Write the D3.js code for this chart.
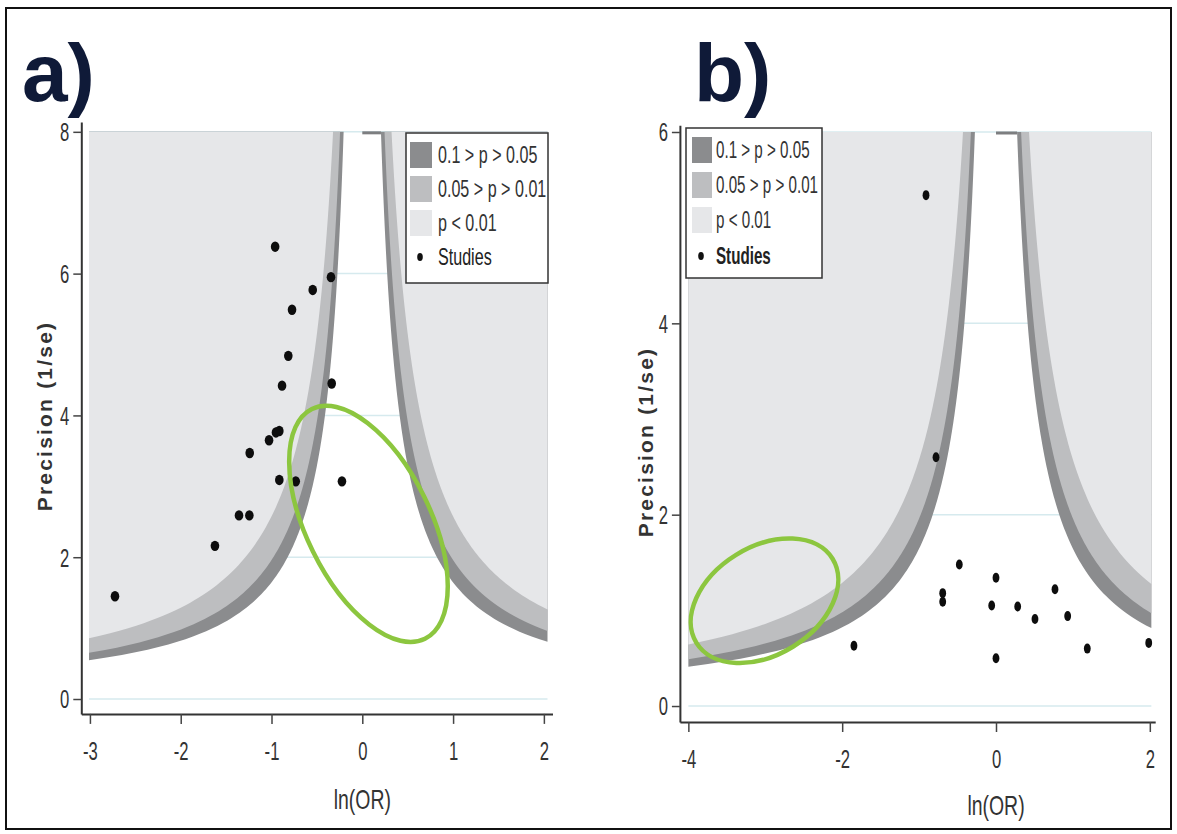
<!DOCTYPE html>
<html><head><meta charset="utf-8">
<script src="https://cdn.jsdelivr.net/npm/d3@7"></script>
<style>
body{margin:0;background:#fff;}
svg{display:block;}
</style></head><body>
<svg id="chart" width="1177" height="834"></svg>
<script>
// Two-sided significance contours (z thresholds) and their fills
const bandLabels = ["0.1 > p > 0.05", "0.05 > p > 0.01", "p < 0.01"];
const bandZ = [1.645, 1.96, 2.576];
const bandFill = ["#8b8c8e", "#bdbec0", "#e6e7e9"];
const studiesLabel = "Studies";

// Panel a: study estimates
const aLogOR = [-0.96, -0.345, -0.546, -0.774, -0.815, -0.884, -0.337, -0.914, -0.951, -1.027, -1.24, -0.914, -0.733, -0.224, -1.358, -1.244, -1.623, -2.724];
const aPrecision = [6.38, 5.95, 5.77, 5.49, 4.84, 4.42, 4.45, 3.78, 3.76, 3.65, 3.47, 3.09, 3.07, 3.07, 2.59, 2.59, 2.16, 1.45];
const aXTicks = [-3, -2, -1, 0, 1, 2];
const aYTicks = [0, 2, 4, 6, 8];
const aShadeRange = [-3.01, 2.04];

// Panel b: study estimates
const bLogOR = [-0.91, -0.78, -0.477, 0.0, -0.693, -0.693, -0.056, 0.282, 0.507, 0.767, 0.932, 0.0, 1.187, 1.986, -1.847];
const bPrecision = [5.34, 2.60, 1.48, 1.34, 1.18, 1.09, 1.05, 1.04, 0.91, 1.22, 0.94, 0.50, 0.60, 0.66, 0.63];
const bXTicks = [-4, -2, 0, 2];
const bYTicks = [0, 2, 4, 6];
const bShadeRange = [-4.0, 2.02];

const SANS = '"Liberation Sans",Arial,Helvetica,sans-serif';
// condensed look: regular sans squeezed horizontally
const SQUEEZE = 0.7;

const svg = d3.select("#chart");

// frame around the figure
svg.append("rect").attr("x", 6).attr("y", 8).attr("width", 1165).attr("height", 821)
  .attr("fill", "none").attr("stroke", "#111").attr("stroke-width", 2);

const panels = [
  {
    title: "a)", titleX: 22,
    logOR: aLogOR, precision: aPrecision, xTicks: aXTicks, yTicks: aYTicks, shade: aShadeRange,
    xDomain: [-3.095, 2.095], xRange: [81.3, 552.5],
    yDomain: [-0.21, 8.14], yRange: [713.9, 121.9],
    dot: [4.3, 5.2],
    legend: {x: 406, y: 133, w: 142, h: 150, swX: 4, swW: 22, txX: 32, sx: 0.7, rows: [22, 56, 90, 124], boldStudies: false},
    yLabel: {x: 44, y: 416}, xLabelY: 800, tickLabelY: 751,
    ellipse: {cx: 0.068, cy: 2.47, rx: 128, ry: 62, rot: 63.8}
  },
  {
    title: "b)", titleX: 694,
    logOR: bLogOR, precision: bPrecision, xTicks: bXTicks, yTicks: bYTicks, shade: bShadeRange,
    xDomain: [-4.11, 2.07], xRange: [679.9, 1155.2],
    yDomain: [-0.167, 6.07], yRange: [722, 125.3],
    dot: [3.4, 5.0],
    legend: {x: 686, y: 128, w: 136, h: 150, swX: 6, swW: 20, txX: 30, sx: 0.66, rows: [22, 57, 92, 128], boldStudies: true},
    yLabel: {x: 645, y: 442}, xLabelY: 806, tickLabelY: 759,
    ellipse: {cx: -3.01, cy: 1.10, rx: 80, ry: 54, rot: -31.7}
  }
];

panels.forEach(drawPanel);

// place a text at (x, y) with a horizontal squeeze
function narrowText(parent, x, y, str, size, opts = {}) {
  return parent.append("text")
    .attr("transform", `translate(${x},${y}) scale(${opts.sx || SQUEEZE},1)`)
    .attr("text-anchor", opts.anchor || "start")
    .attr("dominant-baseline", "central")
    .attr("font-family", SANS).attr("font-size", size)
    .attr("font-weight", opts.bold ? "bold" : "normal")
    .attr("fill", opts.fill || "#333").text(str);
}

function drawPanel(p) {
  const x = d3.scaleLinear().domain(p.xDomain).range(p.xRange);
  const y = d3.scaleLinear().domain(p.yDomain).range(p.yRange);
  const g = svg.append("g");
  const yTop = d3.max(p.yTicks);
  const [xmin, xmax] = p.shade;

  // title
  g.append("text").attr("x", p.titleX).attr("y", 101)
    .attr("font-family", SANS).attr("font-weight", "bold").attr("font-size", 82)
    .attr("fill", "#0f1a38").text(p.title);

  // horizontal grid
  g.append("g").selectAll("line").data(p.yTicks).join("line")
    .attr("x1", x(xmin)).attr("x2", x(xmax))
    .attr("y1", d => y(d)).attr("y2", d => y(d))
    .attr("stroke", "#d6eaee").attr("stroke-width", 1.5);

  // contour regions: |lnOR| > z / precision, widest band first
  const line = d3.line().x(d => x(d[0])).y(d => y(d[1]));
  bandZ.forEach((z, i) => {
    [-1, 1].forEach(side => {
      const edge = side < 0 ? xmin : xmax;
      const yLow = z / Math.abs(edge);
      const pts = [[edge, yTop]];
      const n = 200;
      for (let k = 0; k <= n; k++) {
        const pr = yTop - (yTop - yLow) * k / n;
        pts.push([side * z / pr, pr]);
      }
      pts.push([edge, yLow]);
      g.append("path").attr("d", line(pts) + "Z").attr("fill", bandFill[i]);
    });
  });
  // short cap along the top of the central region
  g.append("line")
    .attr("x1", x(0)).attr("x2", x(bandZ[0] / yTop))
    .attr("y1", y(yTop) + 1).attr("y2", y(yTop) + 1)
    .attr("stroke", "#7d7e80").attr("stroke-width", 3);

  // studies
  g.append("g").selectAll("ellipse").data(p.logOR.map((v, i) => [v, p.precision[i]])).join("ellipse")
    .attr("cx", d => x(d[0])).attr("cy", d => y(d[1]))
    .attr("rx", p.dot[0]).attr("ry", p.dot[1]).attr("fill", "#0d0d0d");

  // highlighted region
  const e = p.ellipse;
  g.append("ellipse")
    .attr("transform", `translate(${x(e.cx)},${y(e.cy)}) rotate(${e.rot})`)
    .attr("rx", e.rx).attr("ry", e.ry)
    .attr("fill", "none").attr("stroke", "#8cc63f").attr("stroke-width", 4.5);

  // axes
  const xAxis = g.append("g").attr("transform", `translate(0,${p.yRange[0]})`)
    .call(d3.axisBottom(x).tickValues(p.xTicks).tickSize(10).tickSizeOuter(0)
      .tickFormat(d => d < 0 ? "-" + Math.abs(d) : String(d)));
  const yAxis = g.append("g").attr("transform", `translate(${p.xRange[0]},0)`)
    .call(d3.axisLeft(y).tickValues(p.yTicks).tickSize(8).tickSizeOuter(0).tickFormat(d3.format("d")));
  [xAxis, yAxis].forEach(a => {
    a.select(".domain").attr("stroke", "#333").attr("stroke-width", 2);
    a.selectAll(".tick line").attr("stroke", "#444").attr("stroke-width", 1.5);
    a.selectAll(".tick text").attr("font-family", SANS).attr("font-size", 26).attr("fill", "#333")
      .attr("dy", null).attr("dominant-baseline", "central");
  });
  xAxis.selectAll(".tick text")
    .attr("y", null)
    .attr("transform", `translate(0,${p.tickLabelY - p.yRange[0]}) scale(0.64,1)`);
  yAxis.selectAll(".tick text")
    .attr("x", null).attr("text-anchor", "end")
    .attr("transform", "translate(-12,0) scale(0.64,1)");

  // axis titles
  narrowText(g, x(0), p.xLabelY, "ln(OR)", 27, {anchor: "middle", sx: 0.72});
  g.append("text")
    .attr("transform", `translate(${p.yLabel.x},${p.yLabel.y}) rotate(-90)`)
    .attr("text-anchor", "middle").attr("dominant-baseline", "central")
    .attr("font-family", SANS).attr("font-weight", "bold").attr("font-size", 21)
    .attr("letter-spacing", 2.2).attr("fill", "#333").text("Precision (1/se)");

  // legend
  const L = p.legend;
  const lg = g.append("g").attr("transform", `translate(${L.x},${L.y})`);
  lg.append("rect").attr("width", L.w).attr("height", L.h)
    .attr("fill", "#fff").attr("stroke", "#333").attr("stroke-width", 1.5);
  bandLabels.forEach((lab, i) => {
    lg.append("rect").attr("x", L.swX).attr("y", L.rows[i] - 13)
      .attr("width", L.swW).attr("height", 26).attr("fill", bandFill[i]);
    narrowText(lg, L.txX, L.rows[i], lab, 23, {sx: L.sx});
  });
  lg.append("ellipse").attr("cx", L.swX + L.swW / 2 - 1).attr("cy", L.rows[3])
    .attr("rx", 2.8).attr("ry", 4).attr("fill", "#111");
  narrowText(lg, L.txX, L.rows[3], studiesLabel, 23, {bold: L.boldStudies, fill: "#222", sx: L.sx});
}
</script>
</body></html>
